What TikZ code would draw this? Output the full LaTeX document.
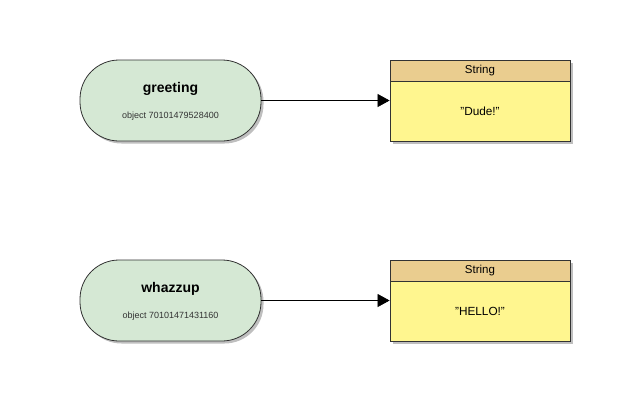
\documentclass[tikz,border=0pt]{standalone}
\usepackage{fontspec}
\setmainfont{Liberation Sans}
\usetikzlibrary{arrows.meta,shadows}
\newcommand{\dqt}{\symbol{34}}
\definecolor{pillfill}{HTML}{D5E8D4}
\definecolor{hdrfill}{HTML}{EACD8F}
\definecolor{bodyfill}{HTML}{FFF68F}
\definecolor{strokec}{HTML}{333333}
\tikzset{
  shad/.style={drop shadow={shadow xshift=2.5pt,shadow yshift=-2.5pt,fill=black,opacity=0.25}},
  pill/.style={draw=strokec,fill=pillfill,line width=0.8pt,rounded corners=39pt,minimum width=181pt,minimum height=81pt,inner sep=0pt,shad},
  hdr/.style={draw=strokec,fill=hdrfill,line width=0.8pt,minimum width=180pt,minimum height=21pt,inner sep=0pt,font=\fontsize{11.5}{13}\selectfont,shad},
  bodybox/.style={draw=strokec,fill=bodyfill,line width=0.8pt,minimum width=180pt,minimum height=60pt,inner sep=0pt,font=\fontsize{11.8}{13}\selectfont,shad},
  title/.style={font=\fontsize{14}{16}\bfseries\selectfont},
  small/.style={font=\fontsize{9}{10}\selectfont,text=strokec},
  conn/.style={draw=black,line width=0.7pt,-{Triangle[length=12pt,width=13pt]}}
}
\begin{document}
\begin{tikzpicture}[x=1pt,y=-1pt]
\useasboundingbox (0,0) rectangle (640,400);
% first
\node[pill] (g1) at (170.5,100.5) {};
\node[title] (g1t) at (170.5,89) {greeting};
\node[small] (g1o) at (170.5,116) {object 70101479528400};
\node[hdr] (h1) at (480,70.5) {String};
\node[bodybox] (b1) at (480,111) {\dqt Dude!\dqt};
\draw[conn] (g1.east) -- (g1.east -| b1.west);
% second
\node[pill] (g2) at (170.5,300.5) {};
\node[title] (g2t) at (170.5,289) {whazzup};
\node[small] (g2o) at (170.5,316) {object 70101471431160};
\node[hdr] (h2) at (480,270.5) {String};
\node[bodybox] (b2) at (480,311) {\dqt HELLO!\dqt};
\draw[conn] (g2.east) -- (g2.east -| b2.west);
\end{tikzpicture}
\end{document}
